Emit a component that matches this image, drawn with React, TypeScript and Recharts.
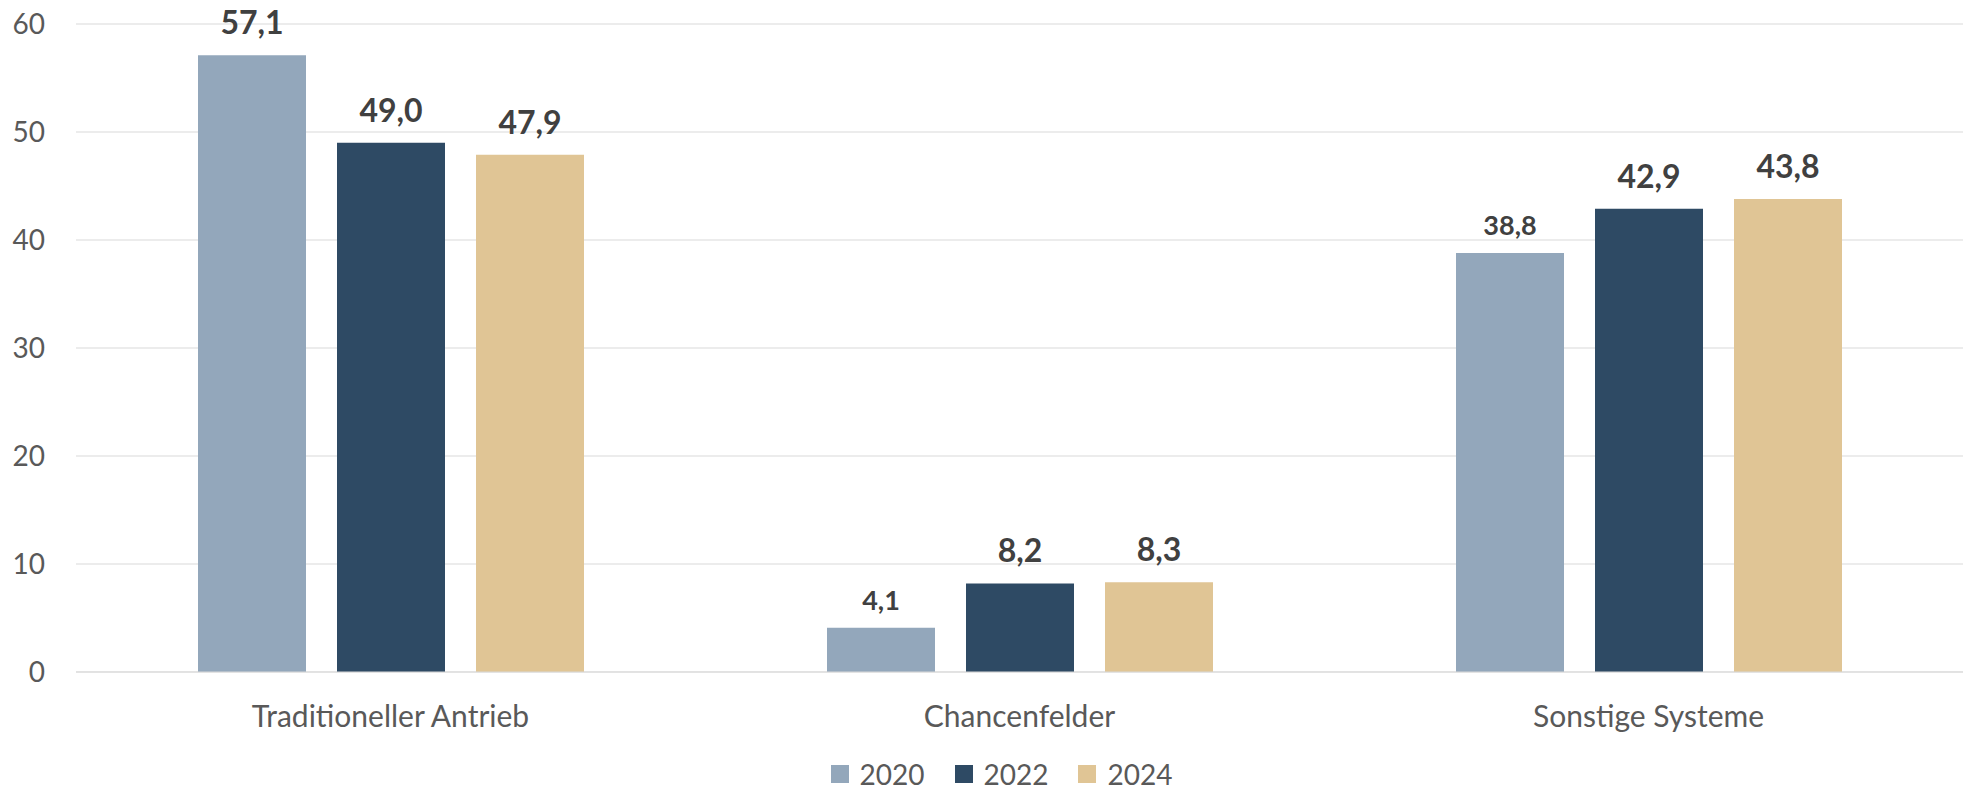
import { Bar, BarChart, CartesianGrid, LabelList, Legend, XAxis, YAxis } from "recharts"

const categories = ["Traditioneller Antrieb", "Chancenfelder", "Sonstige Systeme"]
const years = ["2020", "2022", "2024"]
const values2020 = [57.1, 4.1, 38.8]
const values2022 = [49.0, 8.2, 42.9]
const values2024 = [47.9, 8.3, 43.8]
const yTicks = [0, 10, 20, 30, 40, 50, 60]

const colors: Record<string, string> = { "2020": "#93a7bb", "2022": "#2e4a64", "2024": "#e0c595" }
// a couple of labels are set smaller in the original
const smallLabels = new Set(["2020-1", "2020-2"])

const data = categories.map((name, i) => ({
  name,
  "2020": values2020[i],
  "2022": values2022[i],
  "2024": values2024[i],
}))

const fmt = (v: number) => v.toFixed(1).replace(".", ",")

function makeLabel(year: string) {
  return (props: any) => {
    const { x, y, width, value, index } = props
    const small = smallLabels.has(`${year}-${index}`)
    return (
      <text
        x={Number(x) + Number(width) / 2}
        y={Number(y) - (small ? 18 : 21)}
        textAnchor="middle"
        fontSize={small ? 27 : 32}
        fontWeight={700}
        fill="#404040"
      >
        {fmt(Number(value))}
      </text>
    )
  }
}

function renderLegend() {
  return (
    <div style={{ display: "flex", justifyContent: "center", paddingTop: 26, paddingLeft: 40, height: 54, boxSizing: "border-box" }}>
      {years.map((year, i) => (
        <div key={year} style={{ display: "flex", alignItems: "center", marginLeft: i ? 30 : 0, height: 28 }}>
          <span style={{ display: "inline-block", width: 18, height: 18, background: colors[year], marginRight: 11 }} />
          <span style={{ fontSize: 28, color: "#595959", lineHeight: "28px" }}>{year}</span>
        </div>
      ))}
    </div>
  )
}

export default function App() {
  return (
    <div style={{ width: 1970, height: 788, fontFamily: "Lato, 'Open Sans', sans-serif", background: "#fff" }}>
      <style>{`body{margin:0}`}</style>
      <BarChart width={1970} height={788} data={data} margin={{ top: 24, right: 7, left: 0, bottom: 0 }} barSize={108} barGap={31}>
        <CartesianGrid vertical={false} stroke="#d9d9d9" />
        <XAxis
          dataKey="name"
          axisLine={{ stroke: "#d9d9d9" }}
          tickLine={false}
          tickSize={0}
          tickMargin={34}
          height={62}
          tick={{ fontSize: 30, fill: "#595959" }}
        />
        <YAxis
          domain={[0, 60]}
          ticks={yTicks}
          axisLine={false}
          tickLine={false}
          tickSize={0}
          tickMargin={31}
          width={76}
          tick={{ fontSize: 28, fill: "#595959" }}
        />
        <Legend verticalAlign="bottom" height={54} content={renderLegend} />
        {years.map((year) => (
          <Bar key={year} dataKey={year} name={year} fill={colors[year]} isAnimationActive={false}>
            <LabelList dataKey={year} content={makeLabel(year)} />
          </Bar>
        ))}
      </BarChart>
    </div>
  )
}
